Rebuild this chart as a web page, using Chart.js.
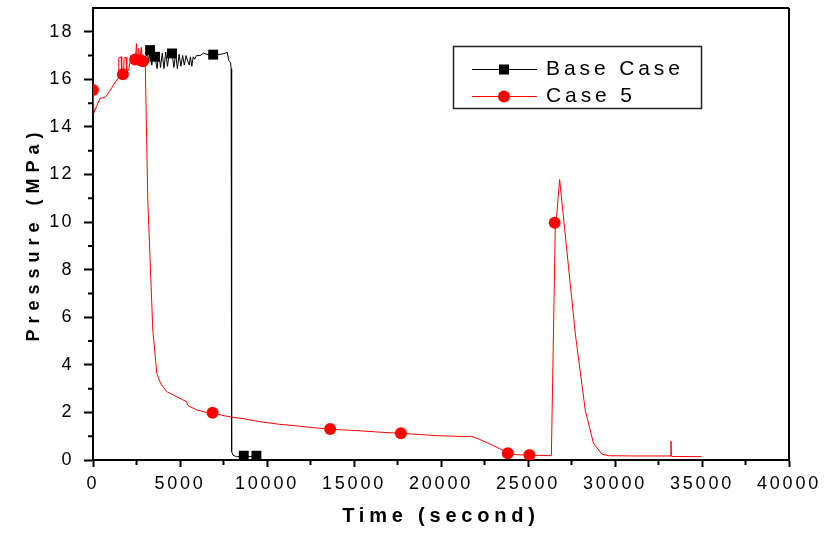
<!DOCTYPE html>
<html><head><meta charset="utf-8">
<script src="https://cdn.jsdelivr.net/npm/chart.js@4"></script>
<style>html,body{margin:0;padding:0;background:#fff;}#wrap{position:relative;width:825px;height:536px;}canvas{display:block;}</style>
</head><body><div id="wrap"><canvas id="c" width="825" height="536" style="width:825px;height:536px"></canvas></div>
<script>
// ---------------- data ----------------
const seriesNames = ['Base Case', 'Case 5'];
const xTickValues = [0, 5000, 10000, 15000, 20000, 25000, 30000, 35000, 40000];
const yTickValues = [0, 2, 4, 6, 8, 10, 12, 14, 16, 18];
const xTitle = 'Time (second)';
const yTitle = 'Pressure (MPa)';

const baseCaseTime = [2300, 2500, 2800, 3050, 3100, 3200, 3282, 3380, 3470, 3568, 3680, 3780, 3880, 3980, 4080, 4180, 4280, 4380, 4541, 4650, 4750, 4850, 4950, 5050, 5150, 5250, 5350, 5430, 5530, 5600, 5680, 5760, 5850, 5950, 6150, 6350, 6550, 6907, 7300, 7500, 7720, 7800, 7906, 7940, 7960, 7975, 8050, 8247, 8664, 9391, 9500];
const baseCasePressure = [16.85, 16.85, 16.85, 17.0, 17.3, 16.7, 17.23, 16.6, 17.2, 16.95, 16.45, 17.15, 16.5, 17.1, 16.45, 17.15, 16.55, 17.1, 17.09, 16.5, 17.1, 16.45, 17.05, 16.55, 17.0, 16.6, 17.0, 16.8, 16.6, 16.95, 16.55, 16.95, 16.85, 17.0, 17.0, 17.1, 17.05, 17.04, 17.05, 17.08, 17.13, 16.8, 16.7, 16.45, 16.3, 0.35, 0.2, 0.14, 0.14, 0.14, 0.14];
const baseCaseMarkerTime = [3282, 3568, 4541, 6907, 8664, 9391];
const baseCaseMarkerPressure = [17.23, 16.95, 17.09, 17.04, 0.18, 0.18];

const case5Time = [0, 60, 200, 400, 700, 1000, 1250, 1450, 1480, 1620, 1650, 1750, 1790, 1900, 1940, 2050, 2150, 2300, 2380, 2430, 2500, 2540, 2620, 2680, 2780, 2830, 2950, 3000, 3150, 3437, 3667, 3900, 4238, 4500, 4811, 5100, 5383, 5450, 5572, 6000, 6500, 6872, 7400, 8052, 8624, 9581, 10726, 11500, 12634, 13630, 14500, 15497, 16500, 17696, 18800, 19890, 20800, 21420, 21706, 22180, 22942, 23710, 23840, 24400, 25083, 25800, 26343, 26573, 26650, 26818, 27718, 28290, 28766, 29243, 29626, 31000, 33200, 33217, 33240, 34970];
const case5Pressure = [15.55, 14.6, 14.85, 15.2, 15.25, 15.55, 15.85, 16.05, 16.9, 16.95, 16.15, 16.25, 16.9, 16.92, 16.3, 16.4, 16.8, 16.85, 17.05, 16.8, 17.5, 16.9, 17.3, 16.85, 17.35, 16.8, 16.75, 16.8, 10.92, 5.46, 3.64, 3.2, 2.87, 2.78, 2.66, 2.55, 2.45, 2.3, 2.24, 2.1, 2.0, 1.99, 1.88, 1.79, 1.74, 1.61, 1.5, 1.45, 1.36, 1.3, 1.26, 1.22, 1.17, 1.12, 1.07, 1.02, 1.0, 0.98, 1.0, 0.88, 0.63, 0.35, 0.28, 0.22, 0.21, 0.19, 0.18, 10.01, 10.3, 11.79, 5.32, 2.1, 0.7, 0.25, 0.18, 0.17, 0.17, 0.8, 0.15, 0.14];
const case5MarkerTime = [0, 1718, 2422, 2709, 2863, 6872, 13630, 17696, 23840, 25083, 26533];
const case5MarkerPressure = [15.55, 16.22, 16.84, 16.81, 16.76, 1.99, 1.3, 1.12, 0.28, 0.21, 9.97];

// ---------------- helpers ----------------
const toPts = (xs, ys) => xs.map((x, i) => ({x: x, y: ys[i]}));
const FONT = '"Liberation Sans", Arial, sans-serif';
const spacing = {x: {ticks: 2.8, title: 4.8}, y: {ticks: 2.4, title: 6.0}};

// letter spacing for axis text (canvas letterSpacing)
const SP = Chart.Scale.prototype;
const origLabels = SP.drawLabels, origTitle = SP.drawTitle;
SP.drawLabels = function (a) {
  const c = this.ctx, s = spacing[this.id];
  const prev = c.letterSpacing; if (s) c.letterSpacing = s.ticks + 'px';
  origLabels.call(this, a); c.letterSpacing = prev || '0px';
};
SP.drawTitle = function (a) {
  const c = this.ctx, s = spacing[this.id];
  const prev = c.letterSpacing; if (s) c.letterSpacing = s.title + 'px';
  origTitle.call(this, a); c.letterSpacing = prev || '0px';
};

const frameAndMinor = {
  id: 'frameAndMinor',
  afterDraw(chart) {
    const {ctx, chartArea: a, scales: {x, y}} = chart;
    ctx.save();
    ctx.strokeStyle = '#000'; ctx.lineWidth = 2;
    ctx.beginPath();
    ctx.moveTo(a.left, a.top); ctx.lineTo(a.right, a.top);
    ctx.moveTo(a.right, a.top); ctx.lineTo(a.right, a.bottom);
    ctx.stroke();
    ctx.beginPath();
    for (let i = 0; i < xTickValues.length - 1; i++) {
      const px = x.getPixelForValue((xTickValues[i] + xTickValues[i + 1]) / 2);
      ctx.moveTo(px, a.bottom); ctx.lineTo(px, a.bottom + 5);
    }
    for (let i = 0; i < yTickValues.length - 1; i++) {
      const py = y.getPixelForValue((yTickValues[i] + yTickValues[i + 1]) / 2);
      ctx.moveTo(a.left - 5, py); ctx.lineTo(a.left, py);
    }
    ctx.stroke();
    ctx.restore();
  }
};

const boxLegend = {
  id: 'boxLegend',
  afterDraw(chart) {
    const ctx = chart.ctx;
    ctx.save();
    ctx.fillStyle = '#fff';
    ctx.fillRect(453, 46, 249, 63);
    ctx.strokeStyle = '#222'; ctx.lineWidth = 1.5;
    ctx.strokeRect(453.5, 46.5, 248, 62);
    const rows = [
      {name: seriesNames[0], color: '#000', y: 69.5, shape: 'rect', base: 74.5},
      {name: seriesNames[1], color: '#ff0000', y: 96.5, shape: 'circle', base: 101.7}
    ];
    rows.forEach(r => {
      ctx.strokeStyle = r.color; ctx.lineWidth = 1;
      ctx.beginPath(); ctx.moveTo(472, r.y); ctx.lineTo(537, r.y); ctx.stroke();
      ctx.fillStyle = r.color;
      if (r.shape === 'rect') ctx.fillRect(499, r.y - 5, 10, 10);
      else { ctx.beginPath(); ctx.arc(504, r.y, 6, 0, Math.PI * 2); ctx.fill(); }
      ctx.fillStyle = '#000';
      ctx.font = '21px ' + FONT;
      ctx.letterSpacing = '3.9px';
      ctx.textAlign = 'left'; ctx.textBaseline = 'alphabetic';
      ctx.fillText(r.name, 546, r.base);
      ctx.letterSpacing = '0px';
    });
    ctx.restore();
  }
};

new Chart(document.getElementById('c'), {
  type: 'scatter',
  data: {
    datasets: [
      {label: seriesNames[0], data: toPts(baseCaseTime, baseCasePressure), showLine: true,
       borderColor: '#000', borderWidth: 1, pointRadius: 0, order: 4},
      {label: seriesNames[0] + ' symbols', data: toPts(baseCaseMarkerTime, baseCaseMarkerPressure), showLine: false,
       pointStyle: 'rect', pointRadius: 7, backgroundColor: '#000', borderColor: '#000', borderWidth: 0, order: 3},
      {label: seriesNames[1], data: toPts(case5Time, case5Pressure), showLine: true,
       borderColor: '#ff0000', borderWidth: 1, pointRadius: 0, order: 2},
      {label: seriesNames[1] + ' symbols', data: toPts(case5MarkerTime, case5MarkerPressure), showLine: false,
       pointStyle: 'circle', pointRadius: 6, backgroundColor: '#ff0000', borderColor: '#ff0000', borderWidth: 0, order: 1}
    ]
  },
  options: {
    responsive: false,
    maintainAspectRatio: false,
    animation: false,
    devicePixelRatio: 1,
    layout: {padding: {left: 0, right: 36, top: 8, bottom: 0}},
    plugins: {legend: {display: false}, tooltip: {enabled: false}},
    scales: {
      x: {
        type: 'linear', min: 0, max: 40000,
        afterFit(s) { s.height = 76; s.paddingLeft = 0; s.paddingRight = 0; },
        afterBuildTicks(s) { s.ticks = xTickValues.map(v => ({value: v})); },
        ticks: {font: {family: FONT, size: 18}, color: '#000', padding: 6, maxRotation: 0, autoSkip: false,
                callback: v => String(v)},
        grid: {drawOnChartArea: false, drawTicks: true, tickLength: 7, tickWidth: 2, tickColor: '#000', color: '#000'},
        border: {display: true, color: '#000', width: 2},
        title: {display: true, text: xTitle, color: '#000', font: {family: FONT, size: 20, weight: 'bold'},
                padding: {top: 0, bottom: 8}}
      },
      y: {
        type: 'linear', min: 0, max: 19,
        afterFit(s) { s.width = 93; s.paddingTop = 0; s.paddingBottom = 0; },
        afterBuildTicks(s) { s.ticks = yTickValues.map(v => ({value: v})); },
        ticks: {font: {family: FONT, size: 18}, color: '#000', padding: 10, autoSkip: false,
                callback: v => String(v)},
        grid: {drawOnChartArea: false, drawTicks: true, tickLength: 9, tickWidth: 2, tickColor: '#000', color: '#000'},
        border: {display: true, color: '#000', width: 2},
        title: {display: true, text: yTitle, color: '#000', font: {family: FONT, size: 18, weight: 'bold'},
                padding: {top: 23, bottom: 0}}
      }
    }
  },
  plugins: [frameAndMinor, boxLegend]
});
</script>
</body></html>
